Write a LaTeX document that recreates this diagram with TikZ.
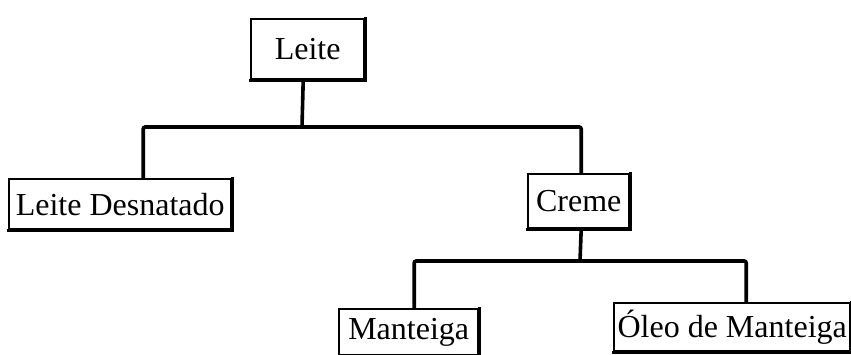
\documentclass[tikz,border=0pt]{standalone}
\usepackage{fontspec}
\setmainfont{Liberation Serif}
\begin{document}
\begin{tikzpicture}[x=1pt,y=-1pt,
  item/.style={draw, line width=2.4pt, inner sep=0pt, font=\fontsize{32}{36}\selectfont,
               anchor=north west},
  link/.style={line width=3.6pt, rounded corners=2pt},
  edge/.style={line width=3pt, line cap=rect}]
\useasboundingbox[fill=white] (0,0) rectangle (851,354);

% boxes, placed by their upper left corners
\node[item, minimum width=113pt, minimum height=60pt] (leite) at (250,18) {Leite};
\node[item, minimum width=222pt, minimum height=50pt] (desn) at (8,178) {Leite Desnatado};
\node[item, minimum width=101pt, minimum height=54pt] (creme) at (527,173) {Creme};
\node[item, minimum width=139pt, minimum height=46pt] (mant) at (338,308) {Manteiga};
\node[item, minimum width=236pt, minimum height=48pt] (oleo) at (613,302) {Óleo de Manteiga};

% heavier right and bottom edges
\foreach \n in {leite,desn,creme,mant,oleo}{
  \draw[edge] (\n.north east) -- (\n.south east) -- (\n.south west);
}

% junctions of the tree
\coordinate (j1) at (302,127);
\coordinate (j2) at (580,261);

\draw[link] ([xshift=-4.5pt]leite.south) -- (j1);
\draw[link] ([xshift=23pt]desn.north) |- (j1) -| ([xshift=2.5pt]creme.north);
\draw[link] ([xshift=2.5pt]creme.south) -- (j2);
\draw[link] ([xshift=5.5pt]mant.north) |- (j2) -| ([xshift=14pt]oleo.north);
\end{tikzpicture}
\end{document}
